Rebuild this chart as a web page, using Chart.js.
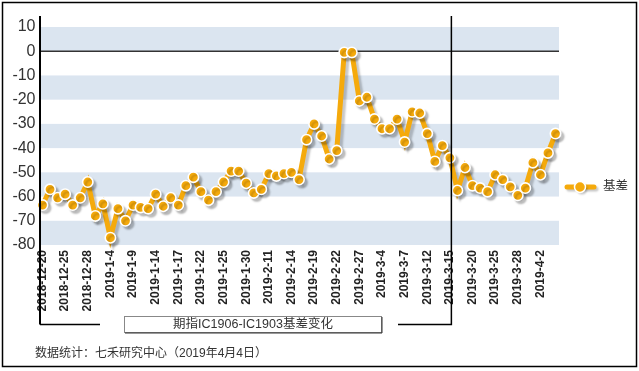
<!DOCTYPE html>
<html>
<head>
<meta charset="utf-8">
<script src="https://cdn.jsdelivr.net/npm/chart.js@4/dist/chart.umd.min.js"></script>
<style>
  body { margin: 0; background: #fff; }
  #wrap { width: 639px; height: 371px; }
</style>
</head>
<body>
<div id="wrap"><canvas id="myChart" width="639" height="371"></canvas></div>
<script>
// trading days 2018-12-20 .. 2019-4-4
const dates = [
    "2018-12-20","2018-12-21","2018-12-24","2018-12-25","2018-12-26","2018-12-27","2018-12-28",
    "2019-1-2","2019-1-3","2019-1-4","2019-1-7","2019-1-8","2019-1-9","2019-1-10","2019-1-11",
    "2019-1-14","2019-1-15","2019-1-16","2019-1-17","2019-1-18","2019-1-21","2019-1-22","2019-1-23",
    "2019-1-24","2019-1-25","2019-1-28","2019-1-29","2019-1-30","2019-1-31",
    "2019-2-1","2019-2-11","2019-2-12","2019-2-13","2019-2-14","2019-2-15","2019-2-18","2019-2-19",
    "2019-2-20","2019-2-21","2019-2-22","2019-2-25","2019-2-26","2019-2-27","2019-2-28",
    "2019-3-1","2019-3-4","2019-3-5","2019-3-6","2019-3-7","2019-3-8","2019-3-11","2019-3-12",
    "2019-3-13","2019-3-14","2019-3-15","2019-3-18","2019-3-19","2019-3-20","2019-3-21","2019-3-22",
    "2019-3-25","2019-3-26","2019-3-27","2019-3-28","2019-3-29",
    "2019-4-1","2019-4-2","2019-4-3","2019-4-4"
];

const basis = [
    -63.5, -57, -60.5, -59, -63.5, -60.5, -54,
    -68, -63, -77, -65, -70, -63.5, -64.5, -65,
    -59, -64, -60.5, -63.5, -55.5, -52, -58, -61.5,
    -58, -54, -49.5, -49.5, -54.5, -58.5,
    -57, -50.5, -51.5, -50.5, -50, -53, -36.5, -30,
    -35, -44.5, -41, -0.5, -0.5, -20.5, -19,
    -28, -32, -32, -28, -37.5, -25, -25.5, -34,
    -45.5, -39, -44, -57.5, -48, -55.5, -56.5, -58,
    -51, -53, -56, -59.5, -56.5,
    -46, -51, -42, -34
];

const seriesName = "基差";
const chartTitle = "期指IC1906-IC1903基差变化";
const sourceNote = "数据统计：七禾研究中心（2019年4月4日）";
const markerDate = "2019-3-15";

const orange = "#f5aa0c";
const band = "#dbe5f0";
const font = '"Liberation Sans", Arial, "Noto Sans CJK SC", sans-serif';

// background bands, zero line, frame, title box, legend
const decor = {
    id: "decor",
    beforeDatasetsDraw(chart) {
        const c = chart.ctx, y = chart.scales.y;
        const left = 41, right = 559;
        c.save();
        c.fillStyle = band;
        for (let v = 10; v > -80; v -= 20) {
            const t = y.getPixelForValue(v), b = y.getPixelForValue(v - 10);
            c.fillRect(left, t, right - left, b - t);
        }
        c.strokeStyle = "#333";
        c.lineWidth = 1.5;
        c.beginPath();
        c.moveTo(left, y.getPixelForValue(0));
        c.lineTo(right, y.getPixelForValue(0));
        c.stroke();
        c.restore();

        c.save();
        c.shadowColor = "rgba(0,0,0,0.22)";
        c.shadowOffsetX = 3;
        c.shadowOffsetY = 3;
        c.shadowBlur = 2;
    },
    afterDatasetsDraw(chart) {
        chart.ctx.restore();
    },
    afterDraw(chart) {
        const c = chart.ctx;
        const mx = chart.scales.x.getPixelForValue(dates.indexOf(markerDate));
        c.save();
        // outer border
        c.strokeStyle = "#000";
        c.lineWidth = 1.5;
        c.strokeRect(2.5, 2.5, 634, 364);

        // left axis + bracket
        c.lineWidth = 2;
        c.beginPath();
        c.moveTo(40, 16);
        c.lineTo(40, 324.5);
        c.stroke();
        c.lineWidth = 1.5;
        c.beginPath();
        c.moveTo(40, 324.5);
        c.lineTo(100, 324.5);
        c.stroke();

        // marker line
        c.beginPath();
        c.moveTo(mx + 1.5, 16);
        c.lineTo(mx + 1.5, 324.5);
        c.lineTo(398, 324.5);
        c.stroke();

        // title box
        c.fillStyle = "#fff";
        c.fillRect(124, 316, 257, 16);
        c.strokeStyle = "#888";
        c.lineWidth = 1;
        c.strokeRect(124.5, 316.5, 257, 16);
        c.strokeStyle = "#333";
        c.beginPath();
        c.moveTo(125, 333);
        c.lineTo(382, 333);
        c.lineTo(382, 317);
        c.stroke();
        c.fillStyle = "#333";
        c.font = "12.5px " + font;
        c.textAlign = "center";
        c.textBaseline = "middle";
        c.fillText(chartTitle, 253, 325);

        // source
        c.textAlign = "left";
        c.font = "12px " + font;
        c.fillText(sourceNote, 35, 354);

        // legend
        c.font = "12.5px " + font;
        c.fillText(seriesName, 603, 187);
        c.shadowColor = "rgba(0,0,0,0.22)";
        c.shadowOffsetX = 2;
        c.shadowOffsetY = 2;
        c.shadowBlur = 2;
        c.strokeStyle = orange;
        c.lineWidth = 5;
        c.lineCap = "round";
        c.beginPath();
        c.moveTo(567, 187);
        c.lineTo(594, 187);
        c.stroke();
        c.beginPath();
        c.arc(580, 187, 5.5, 0, Math.PI * 2);
        c.fillStyle = orange;
        c.fill();
        c.shadowColor = "transparent";
        c.strokeStyle = "#fff";
        c.lineWidth = 1.5;
        c.stroke();
        c.restore();
    }
};

new Chart(document.getElementById("myChart"), {
    type: "line",
    data: {
        labels: dates,
        datasets: [{
            label: seriesName,
            data: basis,
            borderColor: orange,
            borderWidth: 5,
            tension: 0,
            pointRadius: 5.2,
            pointBackgroundColor: orange,
            pointBorderColor: "#fff",
            pointBorderWidth: 1.6,
            clip: false
        }]
    },
    options: {
        responsive: false,
        animation: false,
        events: [],
        layout: { padding: { top: 27, right: 83.5, left: 0, bottom: 0 } },
        plugins: {
            legend: { display: false },
            tooltip: { enabled: false }
        },
        scales: {
            x: {
                offset: false,
                grid: { display: false, drawTicks: false },
                border: { display: false },
                afterFit: s => { s.height = 126; },
                ticks: {
                    autoSkip: false,
                    minRotation: 90,
                    maxRotation: 90,
                    padding: 5,
                    color: "#222",
                    font: { family: font, size: 12, weight: "bold" },
                    callback: (v, i) => i % 3 === 0 ? dates[i] : ""
                }
            },
            y: {
                min: -80,
                max: 10,
                grid: { display: false, drawTicks: false },
                border: { display: false },
                afterFit: s => { s.width = 42.5; },
                ticks: {
                    stepSize: 10,
                    padding: 7,
                    color: "#333",
                    font: { family: font, size: 16 }
                }
            }
        }
    },
    plugins: [decor]
});
</script>
</body>
</html>
